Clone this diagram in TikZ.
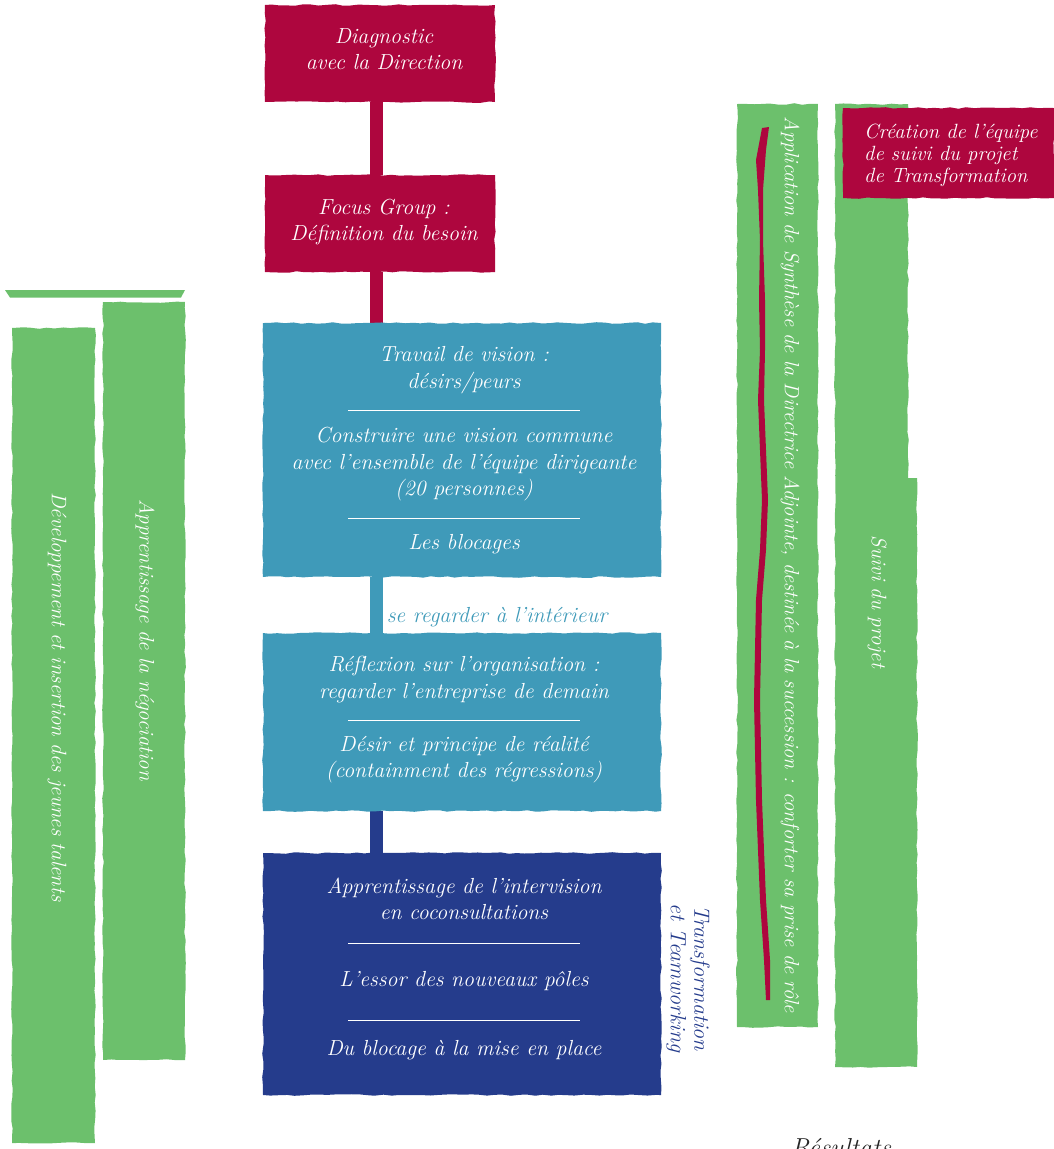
\documentclass[tikz,border=0pt]{standalone}
\usepackage{fontspec}
\usetikzlibrary{decorations.pathmorphing,backgrounds}
\definecolor{crim}{HTML}{AE063E}
\definecolor{teal2}{HTML}{3F9AB9}
\definecolor{navy}{HTML}{253C8C}
\definecolor{grn}{HTML}{6CC06C}
\definecolor{res}{HTML}{262626}
\tikzset{
  rough/.style={decorate,decoration={random steps,segment length=8pt,amplitude=0.8pt}},
  boxbase/.style={rough,inner sep=0pt,outer sep=0pt},
  crimbox/.style={boxbase,fill=crim},
  tealbox/.style={boxbase,fill=teal2},
  navybox/.style={boxbase,fill=navy},
  grnbar/.style={boxbase,fill=grn},
  wtxt/.style={text=white,font=\fontsize{21.8}{26.5}\selectfont\itshape,align=center,inner sep=0pt},
  vtxt/.style={wtxt,rotate=-90,font=\fontsize{21}{26}\selectfont\itshape},
  sepline/.style={draw=white,line width=0.9pt},
  link/.style={line width=13pt},
}
\begin{document}
\pgfmathsetseed{11}
\begin{tikzpicture}[x=1pt,y=-1pt]
\useasboundingbox (0,0) rectangle (1054,1149);
\clip (0,0) rectangle (1054,1149);
\coordinate (xc) at (376.5,0);
% left green bars
\fill[grn] (5,290) -- (185,290) -- (181,297.5) -- (10,297.5) -- cycle;
\node[grnbar,minimum width=83,minimum height=815] (g1) at (53.5,735.5) {};
\node[grnbar,minimum width=82,minimum height=758] (g2) at (144,681) {};
\node[vtxt] (g1t) at (57,697) {Développement et insertion des jeunes talents};
\node[vtxt] (g2t) at (145,640) {Apprentissage de la négociation};
% central boxes
\node[crimbox,minimum width=230,minimum height=97] (b1) at (380,53.5) {};
\node[wtxt] (b1t) at (384,49) {Diagnostic\\avec la Direction};
\node[crimbox,minimum width=230,minimum height=97] (b2) at (380,223.5) {};
\node[wtxt] (b2t) at (384,222) {Focus Group :\\Définition du besoin};
\node[tealbox,minimum width=398,minimum height=254] (b3) at (462,450) {};
\node[wtxt] (b3a) at (464,370) {Travail de vision :\\désirs/peurs};
\node[wtxt] (b3b) at (464,464.5) {Construire une vision commune\\avec l’ensemble de l’équipe dirigeante\\(20 personnes)};
\node[wtxt] (b3c) at (464,544) {Les blocages};
\draw[sepline] (348,410) -- (580,410);
\draw[sepline] (348,518) -- (580,518);
\node[tealbox,minimum width=398,minimum height=178] (b4) at (462,722) {};
\node[wtxt] (b4a) at (464,679.5) {Réflexion sur l’organisation :\\regarder l’entreprise de demain};
\node[wtxt] (b4b) at (464,759.5) {Désir et principe de réalité\\(containment des régressions)};
\draw[sepline] (348,720) -- (580,720);
\node[navybox,minimum width=398,minimum height=242] (b5) at (462,974) {};
\node[wtxt] (b5a) at (464,899) {Apprentissage de l’intervision\\en coconsultations};
\node[wtxt] (b5b) at (464,981) {L’essor des nouveaux pôles};
\node[wtxt] (b5c) at (464,1050) {Du blocage à la mise en place};
\draw[sepline] (348,943) -- (580,943);
\draw[sepline] (348,1020) -- (580,1020);
\begin{scope}[on background layer]
\draw[link,crim] (b1.south -| xc) -- (b2.north -| xc);
\draw[link,crim] (b2.south -| xc) -- (b3.north -| xc);
\draw[link,teal2] (b3.south -| xc) -- (b4.north -| xc);
\draw[link,navy] (b4.south -| xc) -- (b5.north -| xc);
\end{scope}
\node[wtxt,text=teal2] (lab1) at (497,617) {se regarder à l’intérieur};
\node[vtxt,text=navy,font=\fontsize{22}{23.5}\selectfont\itshape] (lab2) at (688,978) {Transformation\\et Teamworking};
% right green bars
\node[grnbar,minimum width=81,minimum height=923] (g3) at (777.5,565.5) {};
\fill[crim] (762,128) -- (756,160) -- (758,190) -- (760,240) -- (759,300) -- (760,350) -- (758,400) -- (762,500) -- (760,550) -- (756,600) -- (754,700) -- (756,800) -- (760,900) -- (764,960) -- (766,1000)
 -- (770,1000) -- (770,960) -- (766,900) -- (762,800) -- (760,700) -- (762,600) -- (766,550) -- (768,500) -- (764,400) -- (765,350) -- (765,300) -- (763,240) -- (763,190) -- (766,150) -- (769,127) -- cycle;
\node[vtxt,font=\fontsize{20.6}{26}\selectfont\itshape] (g3t) at (790,565) {Application de Synthèse de la Directrice Adjointe, destinée à la succession : conforter sa prise de rôle};
\fill[grn,rough] (835,104) -- (908,104) -- (908,478) -- (917,478) -- (917,1067) -- (835,1067) -- cycle;
\node[inner sep=0pt,minimum width=82,minimum height=963] (g4) at (876,585.5) {};
\node[vtxt] (g4t) at (877,602) {Suivi du projet};
\node[crimbox,minimum width=211,minimum height=90] (b6) at (948.5,153) {};
\node[wtxt,anchor=west,align=left,font=\fontsize{20.6}{22}\selectfont\itshape] (b6t) at (864,155) {Création de l’équipe\\de suivi du projet\\de Transformation};
\node[text=res,font=\fontsize{26}{30}\selectfont\itshape,inner sep=0pt] (resu) at (841,1148) {Résultats};
\end{tikzpicture}
\end{document}
